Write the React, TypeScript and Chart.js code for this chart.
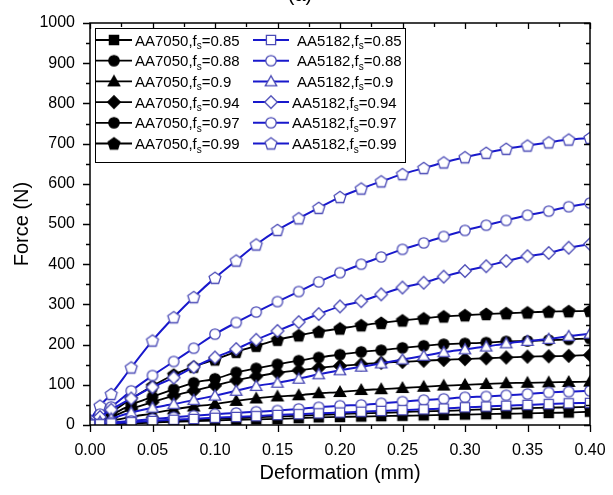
import React, { useEffect, useRef } from "react";
import { Chart, registerables } from "chart.js";
Chart.register(...registerables);

// Deformation (mm) sample positions
const deformation = [0, 0.008, 0.017, 0.033, 0.05, 0.067, 0.083, 0.1, 0.117, 0.133, 0.15, 0.167, 0.183, 0.2, 0.217, 0.233, 0.25, 0.267, 0.283, 0.3, 0.317, 0.333, 0.35, 0.367, 0.383, 0.4];

const xTickValues = [0, 0.05, 0.1, 0.15, 0.2, 0.25, 0.3, 0.35, 0.4];
const yTickValues = [0, 100, 200, 300, 400, 500, 600, 700, 800, 900, 1000];
const fsLabels = ["0.85", "0.88", "0.9", "0.94", "0.97", "0.99"];
const alloyA = "AA7050";
const alloyB = "AA5182";

// AA7050 forces (N)
const aa7050_085 = [0, 1, 2, 4, 6, 8, 10, 11, 13, 14, 15, 17, 19, 20, 21, 22, 23, 24, 25, 26, 27, 28, 29, 30, 31, 33];
const aa7050_088 = [1, 2, 3, 6, 8, 11, 13, 15, 17, 19, 21, 23, 25, 27, 29, 30, 32, 34, 35, 37, 39, 40, 42, 43, 44, 45];
const aa7050_090 = [2, 5, 10, 20, 29, 39, 46, 52, 60, 66, 71, 74, 79, 82, 87, 89, 92, 95, 98, 100, 102, 104, 105, 106, 107, 108];
const aa7050_094 = [3, 10, 20, 40, 57, 73, 85, 98, 111, 121, 130, 136, 142, 147, 151, 155, 157, 160, 162, 164, 166, 168, 170, 171, 172, 174];
const aa7050_097 = [4, 12, 25, 50, 70, 89, 105, 115, 131, 141, 151, 160, 168, 175, 182, 186, 192, 197, 201, 203, 205, 208, 209, 211, 213, 215];
const aa7050_099 = [5, 16, 32, 65, 97, 125, 145, 163, 182, 197, 212, 223, 232, 240, 248, 254, 260, 265, 270, 273, 276, 278, 280, 282, 283, 284];

// AA5182 forces (N)
const aa5182_085 = [1, 2, 4, 7, 10, 13, 15, 18, 20, 22, 25, 27, 29, 31, 33, 35, 37, 39, 41, 44, 46, 48, 50, 52, 54, 55];
const aa5182_088 = [1, 3, 6, 10, 15, 19, 23, 27, 30, 33, 36, 40, 44, 48, 50, 54, 58, 62, 65, 69, 71, 74, 77, 81, 83, 85];
const aa5182_090 = [3, 8, 16, 31, 43, 52, 62, 73, 85, 97, 105, 115, 126, 136, 145, 153, 163, 172, 181, 188, 195, 203, 209, 214, 221, 227];
const aa5182_094 = [5, 20, 38, 66, 94, 118, 144, 168, 189, 212, 234, 256, 276, 295, 308, 325, 342, 354, 369, 383, 395, 408, 420, 428, 441, 450];
const aa5182_097 = [10, 27, 45, 85, 123, 158, 191, 226, 255, 281, 307, 332, 356, 379, 400, 418, 437, 453, 469, 484, 497, 509, 522, 532, 543, 552];
const aa5182_099 = [12, 48, 77, 143, 210, 268, 318, 366, 409, 449, 485, 514, 540, 567, 588, 606, 624, 639, 653, 666, 677, 687, 695, 703, 710, 714];

const seriesA = [aa7050_085, aa7050_088, aa7050_090, aa7050_094, aa7050_097, aa7050_099];
const seriesB = [aa5182_085, aa5182_088, aa5182_090, aa5182_094, aa5182_097, aa5182_099];
const shapes = ["square", "circle", "triangle", "diamond", "circle", "pentagon"];

const FONT = '"Liberation Sans", Arial, sans-serif';
const BLUE = "#1818cc";
const BLUE_EDGE = "#4a4ab6";

function makeMarker(shape: string, filled: boolean) {
  const s = 18;
  const c = document.createElement("canvas");
  c.width = s;
  c.height = s;
  const ctx = c.getContext("2d")!;
  ctx.translate(s / 2, s / 2);
  ctx.beginPath();
  if (shape === "square") {
    ctx.rect(-4.6, -4.6, 9.2, 9.2);
  } else if (shape === "circle") {
    ctx.arc(0, 0, 5.2, 0, Math.PI * 2);
  } else if (shape === "triangle") {
    const r = 6.6;
    for (let i = 0; i < 3; i++) {
      const a = -Math.PI / 2 + (i * 2 * Math.PI) / 3;
      const px = r * Math.cos(a);
      const py = r * Math.sin(a) + 1;
      if (i === 0) ctx.moveTo(px, py);
      else ctx.lineTo(px, py);
    }
  } else if (shape === "diamond") {
    ctx.moveTo(0, -6.3);
    ctx.lineTo(6.3, 0);
    ctx.lineTo(0, 6.3);
    ctx.lineTo(-6.3, 0);
  } else if (shape === "pentagon") {
    const r = 6.2;
    for (let i = 0; i < 5; i++) {
      const a = -Math.PI / 2 + (i * 2 * Math.PI) / 5;
      const px = r * Math.cos(a);
      const py = r * Math.sin(a) + 0.5;
      if (i === 0) ctx.moveTo(px, py);
      else ctx.lineTo(px, py);
    }
  }
  ctx.closePath();
  ctx.fillStyle = filled ? "#000" : "#fff";
  ctx.fill();
  ctx.lineWidth = 1.3;
  ctx.strokeStyle = filled ? "#000" : BLUE_EDGE;
  ctx.stroke();
  return c;
}

export default function App() {
  const ref = useRef<HTMLCanvasElement | null>(null);

  useEffect(() => {
    if (!ref.current) return;
    const markersA = shapes.map((s) => makeMarker(s, true));
    const markersB = shapes.map((s) => makeMarker(s, false));

    const datasets: any[] = [];
    seriesB.forEach((vals, i) => {
      datasets.push({
        label: `${alloyB},fs=${fsLabels[i]}`,
        data: deformation.map((x, k) => ({ x, y: vals[k] })),
        borderColor: BLUE,
        borderWidth: 2,
        pointStyle: markersB[i],
        pointRadius: 5,
        tension: 0.3,
        fill: false,
      });
    });
    seriesA.forEach((vals, i) => {
      datasets.push({
        label: `${alloyA},fs=${fsLabels[i]}`,
        data: deformation.map((x, k) => ({ x, y: vals[k] })),
        borderColor: "#000",
        borderWidth: 1.8,
        pointStyle: markersA[i],
        pointRadius: 5,
        tension: 0.3,
        fill: false,
      });
    });

    const framePlugin = {
      id: "frame",
      afterDatasetsDraw(chart: any) {
        const { ctx, chartArea: a, scales } = chart;
        const xs = scales.x;
        const ys = scales.y;
        ctx.save();
        ctx.strokeStyle = "#000";
        ctx.lineWidth = 1.5;
        ctx.strokeRect(a.left, a.top, a.right - a.left, a.bottom - a.top);
        ctx.beginPath();
        ctx.lineWidth = 1.3;
        xTickValues.forEach((v, i) => {
          const px = Math.round(xs.getPixelForValue(v)) + 0.5;
          ctx.moveTo(px, a.bottom);
          ctx.lineTo(px, a.bottom + 7);
          ctx.moveTo(px, a.top);
          ctx.lineTo(px, a.top + 6);
          if (i < xTickValues.length - 1) {
            const mv = (v + xTickValues[i + 1]) / 2;
            const mx = Math.round(xs.getPixelForValue(mv)) + 0.5;
            ctx.moveTo(mx, a.bottom);
            ctx.lineTo(mx, a.bottom + 4);
            ctx.moveTo(mx, a.top);
            ctx.lineTo(mx, a.top + 4);
          }
        });
        yTickValues.forEach((v, i) => {
          const py = Math.round(ys.getPixelForValue(v)) + 0.5;
          ctx.moveTo(a.left, py);
          ctx.lineTo(a.left - 7, py);
          ctx.moveTo(a.right, py);
          ctx.lineTo(a.right - 6, py);
          if (i < yTickValues.length - 1) {
            const mv = (v + yTickValues[i + 1]) / 2;
            const my = Math.round(ys.getPixelForValue(mv)) + 0.5;
            ctx.moveTo(a.left, my);
            ctx.lineTo(a.left - 4, my);
            ctx.moveTo(a.right, my);
            ctx.lineTo(a.right - 4, my);
          }
        });
        ctx.stroke();
        ctx.restore();
      },
    };

    const legendPlugin = {
      id: "customLegend",
      afterDraw(chart: any) {
        const { ctx } = chart;
        ctx.save();
        const bx = 95.5, by = 28.5, bw = 310, bh = 134;
        ctx.fillStyle = "#fff";
        ctx.fillRect(bx, by, bw, bh);
        ctx.strokeStyle = "#000";
        ctx.lineWidth = 1;
        ctx.strokeRect(bx, by, bw, bh);
        const drawEntry = (x0: number, y: number, color: string, lw: number, marker: HTMLCanvasElement, alloy: string, fs: string, tx: number) => {
          ctx.beginPath();
          ctx.strokeStyle = color;
          ctx.lineWidth = lw;
          ctx.moveTo(x0, y);
          ctx.lineTo(x0 + 36, y);
          ctx.stroke();
          ctx.drawImage(marker, x0 + 18 - marker.width / 2, y - marker.height / 2);
          ctx.fillStyle = "#000";
          ctx.textBaseline = "alphabetic";
          ctx.textAlign = "left";
          ctx.font = `15px ${FONT}`;
          const base = y + 5.5;
          const t1 = `${alloy},f`;
          ctx.fillText(t1, tx, base);
          let w = ctx.measureText(t1).width;
          ctx.font = `10px ${FONT}`;
          ctx.fillText("s", tx + w, base + 3.5);
          w += ctx.measureText("s").width;
          ctx.font = `15px ${FONT}`;
          ctx.fillText(`=${fs}`, tx + w, base);
        };
        for (let i = 0; i < 6; i++) {
          const y = 40 + i * 20.7;
          drawEntry(96, y, "#000", 1.8, markersA[i], alloyA, fsLabels[i], 135);
          drawEntry(253, y, BLUE, 2, markersB[i], alloyB, fsLabels[i], i < 3 ? 297 : 292);
        }
        // partially visible panel label
        ctx.font = `20px ${FONT}`;
        ctx.textAlign = "center";
        ctx.textBaseline = "alphabetic";
        ctx.fillStyle = "#000";
        ctx.fillText("(a)", 300, 1);
        ctx.restore();
      },
    };

    const chart = new Chart(ref.current, {
      type: "line",
      data: { datasets },
      options: {
        animation: false,
        responsive: false,
        devicePixelRatio: 1,
        layout: { padding: { top: 23, right: 23, left: 0, bottom: 0 } },
        plugins: { legend: { display: false }, tooltip: { enabled: false } },
        scales: {
          x: {
            type: "linear",
            min: 0,
            max: 0.4,
            afterBuildTicks: (axis: any) => {
              axis.ticks = xTickValues.map((v) => ({ value: v }));
            },
            afterFit: (axis: any) => {
              axis.height = 70;
              axis.paddingLeft = 0;
              axis.paddingRight = 0;
            },
            grid: { display: false, drawTicks: false },
            border: { display: false },
            ticks: {
              color: "#000",
              padding: 16,
              maxRotation: 0,
              font: { family: FONT, size: 16 },
              callback: (v: any) => Number(v).toFixed(2),
            },
            title: {
              display: true,
              text: "Deformation (mm)",
              color: "#000",
              font: { family: FONT, size: 20 },
              padding: { top: 0, bottom: 10 },
            },
          },
          y: {
            type: "linear",
            min: 0,
            max: 1000,
            afterBuildTicks: (axis: any) => {
              axis.ticks = yTickValues.map((v) => ({ value: v }));
            },
            afterFit: (axis: any) => {
              axis.width = 90;
              axis.paddingTop = 0;
              axis.paddingBottom = 0;
            },
            grid: { display: false, drawTicks: false },
            border: { display: false },
            ticks: {
              color: "#000",
              padding: 15,
              font: { family: FONT, size: 16 },
              callback: (v: any) => String(v),
            },
            title: {
              display: true,
              text: "Force (N)",
              color: "#000",
              font: { family: FONT, size: 20 },
              padding: { top: 10, bottom: 0 },
            },
          },
        },
      },
      plugins: [framePlugin, legendPlugin],
    });
    return () => chart.destroy();
  }, []);

  return (
    <canvas
      ref={ref}
      width={613}
      height={495}
      style={{ position: "fixed", left: 0, top: 0, width: 613, height: 495, background: "#fff" }}
    />
  );
}
